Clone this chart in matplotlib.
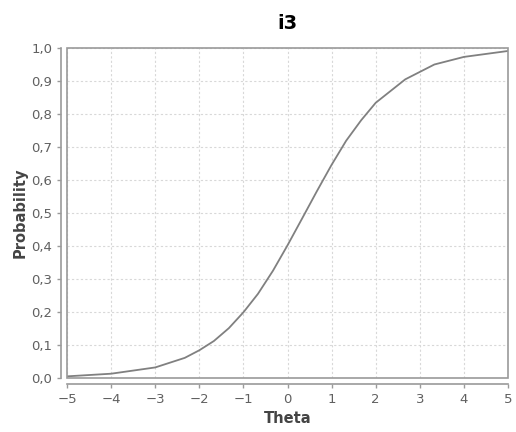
import matplotlib
matplotlib.use("Agg")
import matplotlib.pyplot as plt
from matplotlib.patches import Rectangle
from matplotlib.ticker import FuncFormatter

# item characteristic curve
theta = [-5, -4, -3, -2.33, -2, -1.67, -1.33, -1, -0.67, -0.33, 0,
         0.33, 0.67, 1, 1.33, 1.67, 2, 2.67, 3.33, 4, 5]
prob = [0.005, 0.013, 0.032, 0.061, 0.084, 0.112, 0.151, 0.199, 0.255, 0.325, 0.402,
        0.483, 0.567, 0.646, 0.719, 0.781, 0.834, 0.905, 0.950, 0.973, 0.991]

xticks = list(range(-5, 6))
yticks = [i / 10 for i in range(11)]

plt.rcParams['font.family'] = ['DejaVu Sans']

fig = plt.figure(figsize=(5.16, 4.32), dpi=100)
ax = fig.add_axes([67 / 516, 54 / 432, 441 / 516, 330 / 432])

ax.plot(theta, prob, color='#808080', lw=1.3)

ax.set_xlim(-5, 5)
ax.set_ylim(0, 1)
ax.set_xticks(xticks)
ax.set_yticks(yticks)
ax.yaxis.set_major_formatter(FuncFormatter(lambda v, p: f"{v:.1f}".replace('.', ',')))
ax.grid(True, color='#d8d8d8', ls=(0, (2, 2)), lw=0.8)

for s in ['top', 'right']:
    ax.spines[s].set_visible(False)
for s in ['bottom', 'left']:
    ax.spines[s].set_position(('outward', 4))
    ax.spines[s].set_color('#9a9a9a')
    ax.spines[s].set_linewidth(1.2)
# plot border
ax.add_patch(Rectangle((0, 0), 1, 1, transform=ax.transAxes, fill=False,
                       edgecolor='#9a9a9a', lw=1.2, clip_on=False, zorder=3))

ax.tick_params(colors='#9a9a9a', labelcolor='#606060', labelsize=9.5, length=3, width=1)

ax.set_xlabel('Theta', fontsize=10.5, fontweight='bold', color='#444444', labelpad=4)
ax.set_ylabel('Probability', fontsize=10.5, fontweight='bold', color='#444444', labelpad=3)
ax.set_title('i3', fontsize=14, fontweight='bold', color='black', pad=14)

fig.savefig('out.png', dpi=100, facecolor='white')
